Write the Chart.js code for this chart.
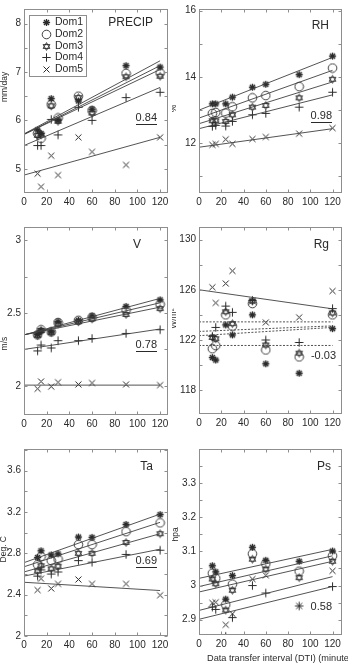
<!DOCTYPE html>
<html>
<head>
<meta charset="utf-8">
<script src="https://cdn.jsdelivr.net/npm/chart.js@4/dist/chart.umd.min.js"></script>
<style>
  html, body { margin: 0; padding: 0; background: #fff; width: 348px; height: 666px; overflow: hidden; }
  canvas { position: absolute; }
</style>
</head>
<body>
<canvas id="c1"></canvas>
<canvas id="c2"></canvas>
<canvas id="c3"></canvas>
<canvas id="c4"></canvas>
<canvas id="c5"></canvas>
<canvas id="c6"></canvas>
<script>
// data transfer interval (minutes), same for every panel
const dti = [12, 15, 24, 30, 48, 60, 90, 120];
const domNames = ["Dom1", "Dom2", "Dom3", "Dom4", "Dom5"];
const xTicks = [0, 20, 40, 60, 80, 100, 120];

// one row per domain: Dom1..Dom5
const precipVals = [
  [5.80, 5.73, 6.45, 6.00, 6.40, 6.23, 7.13, 7.10],
  [5.73, 5.63, 6.33, 6.05, 6.50, 6.20, 6.97, 6.98],
  [5.69, 5.70, 6.30, 5.98, 6.47, 6.15, 6.90, 6.91],
  [5.48, 5.48, 6.02, 5.70, 6.27, 6.00, 6.47, 6.58],
  [4.90, 4.63, 5.27, 4.87, 5.65, 5.35, 5.08, 5.65],
];
const precipFit = [[5.72, 7.23], [5.71, 7.13], [5.71, 7.05], [5.48, 6.68], [4.87, 5.65]];

const rhVals = [
  [13.19, 13.19, 13.19, 13.39, 13.69, 13.78, 14.07, 14.63],
  [12.90, 12.93, 12.91, 13.10, 13.37, 13.44, 13.71, 14.27],
  [12.68, 12.68, 12.66, 12.86, 13.09, 13.14, 13.37, 13.93],
  [12.51, 12.54, 12.52, 12.66, 12.86, 12.90, 13.09, 13.54],
  [11.95, 11.98, 12.12, 11.98, 12.13, 12.19, 12.29, 12.46],
];
const rhFit = [[13.0, 14.59], [12.76, 14.2], [12.59, 13.85], [12.44, 13.46], [11.88, 12.44]];

const vVals = [
  [2.352, 2.38, 2.37, 2.44, 2.45, 2.48, 2.545, 2.59],
  [2.35, 2.385, 2.37, 2.435, 2.45, 2.47, 2.52, 2.56],
  [2.345, 2.38, 2.365, 2.425, 2.44, 2.46, 2.49, 2.53],
  [2.24, 2.28, 2.26, 2.31, 2.31, 2.325, 2.36, 2.385],
  [1.98, 2.03, 1.995, 2.025, 2.01, 2.02, 2.01, 2.005],
];
const vFit = [[2.35, 2.6], [2.35, 2.57], [2.35, 2.54], [2.25, 2.39], [2.005, 2.005]];

const rgVals = [
  [120.6, 120.4, 123.2, 122.4, 124.0, 120.1, 119.35, 122.9],
  [121.3, 121.55, 124.0, 123.1, 124.9, 121.2, 120.65, 124.0],
  [122.2, 122.1, 124.25, 123.3, 125.1, 121.6, 120.95, 124.15],
  [122.3, 123.0, 124.7, 124.2, 125.15, 122.0, 121.8, 124.5],
  [126.2, 124.95, 126.5, 127.5, 125.1, 123.4, 123.8, 125.9],
];
const rgFit = [[121.56, 121.56], [122.34, 123.0], [122.68, 123.12], [123.44, 123.44], [126.0, 124.48]];

const taVals = [
  [2.76, 2.825, 2.785, 2.795, 2.958, 2.955, 3.08, 3.175],
  [2.69, 2.77, 2.73, 2.745, 2.885, 2.885, 3.01, 3.095],
  [2.63, 2.68, 2.65, 2.675, 2.80, 2.80, 2.905, 2.99],
  [2.58, 2.64, 2.60, 2.62, 2.73, 2.715, 2.79, 2.83],
  [2.445, 2.555, 2.46, 2.505, 2.547, 2.505, 2.505, 2.395],
];
const taFit = [[2.71, 3.18], [2.67, 3.1], [2.62, 2.99], [2.58, 2.84], [2.52, 2.44]];

const psVals = [
  [3.058, 3.04, 2.96, 3.029, 3.112, 3.074, 3.071, 3.101],
  [3.036, 3.021, 2.944, 3.004, 3.093, 3.064, 3.042, 3.087],
  [3.019, 3.005, 2.928, 2.986, 3.077, 3.048, 3.023, 3.071],
  [2.937, 2.93, 2.851, 2.906, 3.0, 2.978, 2.94, 2.997],
  [2.949, 2.951, 2.885, 2.917, 3.019, 3.03, 2.94, 3.043],
];
const psFit = [[3.021, 3.106], [2.997, 3.087], [2.981, 3.071], [2.901, 2.997], [2.927, 3.026]];

const FONT = "Arial, 'Liberation Sans', sans-serif";
const INK = "#2a2a2a";

// marker images: asterisk, circle, hexagram, plus, cross
function makeMark(kind) {
  const c = document.createElement("canvas");
  c.width = 11; c.height = 11;
  const g = c.getContext("2d");
  const m = 5.5;
  g.strokeStyle = INK; g.fillStyle = INK; g.lineWidth = 1;
  g.beginPath();
  if (kind === "ast") {
    const r = 3.6;
    for (let k = 0; k < 4; k++) {
      const a = k * Math.PI / 4;
      g.moveTo(m - r * Math.cos(a), m - r * Math.sin(a));
      g.lineTo(m + r * Math.cos(a), m + r * Math.sin(a));
    }
    g.lineWidth = 1.3; g.stroke();
    g.beginPath(); g.arc(m, m, 1.7, 0, Math.PI * 2); g.fill();
  } else if (kind === "circle") {
    g.arc(m, m, 4.3, 0, Math.PI * 2); g.lineWidth = 0.9; g.stroke();
  } else if (kind === "hex") {
    const r = 3.9;
    for (let t = 0; t < 2; t++) {
      for (let k = 0; k < 3; k++) {
        const a = -Math.PI / 2 + t * Math.PI + k * 2 * Math.PI / 3;
        const px = m + r * Math.cos(a), py = m + r * Math.sin(a);
        if (k === 0) g.moveTo(px, py); else g.lineTo(px, py);
      }
      g.closePath();
    }
    g.lineWidth = 0.9; g.stroke();
  } else if (kind === "plus") {
    g.moveTo(m, m - 4.2); g.lineTo(m, m + 4.2);
    g.moveTo(m - 4.2, m); g.lineTo(m + 4.2, m);
    g.lineWidth = 1; g.stroke();
  } else {
    g.moveTo(m - 3, m - 3); g.lineTo(m + 3, m + 3);
    g.moveTo(m + 3, m - 3); g.lineTo(m - 3, m + 3);
    g.lineWidth = 1; g.stroke();
  }
  return c;
}
const marks = [makeMark("ast"), makeMark("circle"), makeMark("hex"), makeMark("plus"), makeMark("x")];

function fmt(v) { return String(Math.round(v * 1000) / 1000); }
function range(a, b, s) { const out = []; for (let v = a; v <= b + 1e-9; v += s) out.push(Math.round(v * 1000) / 1000); return out; }

function buildPanel(p) {
  const cv = document.getElementById(p.id);
  cv.style.left = p.left + "px"; cv.style.top = p.top + "px";
  cv.width = p.width; cv.height = p.height;
  const [bl, bt, br, bb] = p.box;
  const xAxisH = 20;
  const yAxisW = bl - p.left;

  const datasets = [];
  p.fit.forEach((f, i) => {
    datasets.push({
      data: [{ x: 0, y: f[0] }, { x: 120, y: f[1] }],
      showLine: true, pointRadius: 0, borderColor: "#404040", borderWidth: 0.9,
      borderDash: p.dashed && p.dashed[i] ? [2, 1.5] : [],
    });
  });
  p.vals.forEach((row, i) => {
    datasets.push({
      label: domNames[i],
      data: dti.map((x, k) => ({ x: x, y: row[k] })),
      pointStyle: marks[i], pointRadius: 5, showLine: false,
    });
  });

  const deco = {
    id: "deco",
    afterDraw(chart) {
      const ctx = chart.ctx, a = chart.chartArea;
      const xs = chart.scales.x, ys = chart.scales.y;
      ctx.save();
      // box and inward ticks
      ctx.strokeStyle = "#8e8e8e"; ctx.lineWidth = 1;
      const L = Math.round(a.left) + 0.5, T = Math.round(a.top) + 0.5;
      const R = Math.round(a.right) - 0.5, B = Math.round(a.bottom) - 0.5;
      ctx.strokeRect(L, T, R - L, B - T);
      ctx.beginPath();
      xTicks.forEach(v => {
        const px = Math.round(xs.getPixelForValue(v)) + 0.5;
        ctx.moveTo(px, B); ctx.lineTo(px, B - 3);
        ctx.moveTo(px, T); ctx.lineTo(px, T + 3);
      });
      p.yMarks.forEach(v => {
        const py = Math.round(ys.getPixelForValue(v)) + 0.5;
        ctx.moveTo(L, py); ctx.lineTo(L + 3, py);
        ctx.moveTo(R, py); ctx.lineTo(R - 3, py);
      });
      ctx.stroke();

      ctx.fillStyle = INK;
      // panel name
      ctx.font = "12px " + FONT;
      ctx.textAlign = "right"; ctx.textBaseline = "middle";
      ctx.fillText(p.title, a.right - p.titlePos[0], a.top + p.titlePos[1]);
      // statistic
      ctx.font = "11px " + FONT;
      const sx = a.right - p.statPos[0], sy = a.top + p.statPos[1];
      ctx.fillText(p.stat, sx, sy);
      if (p.underline) {
        const w = ctx.measureText(p.stat).width;
        ctx.fillRect(Math.round(sx - w), Math.round(sy + 6), Math.round(w), 1);
      }
      // y axis title
      ctx.save();
      ctx.font = "8.5px " + FONT;
      ctx.textAlign = "center";
      ctx.translate(p.yTitleX - p.left, ys.getPixelForValue(p.yTitleAt));
      ctx.rotate(-Math.PI / 2);
      ctx.fillText(p.yTitle, 0, 0);
      ctx.restore();
      // legend
      if (p.legend) {
        const lx = a.left + 5, ly = a.top + 6;
        ctx.fillStyle = "#fff";
        ctx.fillRect(lx, ly, 57, 61);
        ctx.strokeStyle = "#8e8e8e";
        ctx.strokeRect(Math.round(lx) + 0.5, Math.round(ly) + 0.5, 57, 61);
        ctx.fillStyle = INK;
        ctx.font = "10.5px " + FONT;
        ctx.textAlign = "left";
        domNames.forEach((n, i) => {
          const yy = Math.round(ly + 7 + i * 11.8);
          ctx.drawImage(marks[i], Math.round(lx + 17 - 5.5), yy - 5.5 + 0.5);
          ctx.fillText(n, lx + 26, yy + 0.5);
        });
      }
      if (p.xTitle) {
        ctx.font = "9.2px " + FONT;
        ctx.textAlign = "left";
        ctx.fillText(p.xTitle, p.xTitlePos[0] - p.left, p.xTitlePos[1] - p.top);
      }
      ctx.restore();
    }
  };

  new Chart(cv, {
    type: "scatter",
    data: { datasets: datasets },
    options: {
      responsive: false,
      animation: false,
      devicePixelRatio: 1,
      layout: {
        padding: {
          left: 0,
          top: bt - p.top,
          right: p.left + p.width - br,
          bottom: p.top + p.height - bb - xAxisH,
        },
      },
      plugins: { legend: { display: false }, tooltip: { enabled: false } },
      scales: {
        x: {
          type: "linear", min: 0, max: p.xmax,
          grid: { display: false, drawTicks: false, tickLength: 0 }, border: { display: false },
          afterBuildTicks: s => { s.ticks = xTicks.map(v => ({ value: v })); },
          afterFit: s => { s.height = xAxisH; },
          ticks: { autoSkip: false, maxRotation: 0, padding: 3, color: INK, font: { size: 10, family: FONT }, callback: v => fmt(v) },
        },
        y: {
          type: "linear", min: p.ymin, max: p.ymax,
          grid: { display: false, drawTicks: false, tickLength: 0 }, border: { display: false },
          afterBuildTicks: s => { s.ticks = p.yLabels.map(v => ({ value: v })); },
          afterFit: s => { s.width = yAxisW; },
          ticks: { autoSkip: false, padding: 3, color: INK, font: { size: 10, family: FONT }, callback: v => fmt(v) },
        },
      },
    },
    plugins: [deco],
  });
}

buildPanel({
  id: "c1", left: 0, top: 0, width: 174, height: 215, box: [24, 4, 170, 193],
  ymin: 4.5, ymax: 8.3, yLabels: [5, 6, 7, 8], yMarks: range(5, 8, 0.5), xmax: 127,
  vals: precipVals, fit: precipFit,
  title: "PRECIP", titlePos: [15, 14], stat: "0.84", underline: true, statPos: [11, 109],
  yTitle: "mm/day", yTitleAt: 6.69, yTitleX: 5, legend: true,
});
buildPanel({
  id: "c2", left: 172, top: 0, width: 176, height: 215, box: [199, 5, 343, 193],
  ymin: 10.5, ymax: 16.05, yLabels: [12, 14, 16], yMarks: range(11, 16, 1), xmax: 128.5,
  vals: rhVals, fit: rhFit,
  title: "RH", titlePos: [13, 17], stat: "0.98", underline: true, statPos: [10, 107],
  yTitle: "%", yTitleAt: 13.05, yTitleX: 174,
});
buildPanel({
  id: "c3", left: 0, top: 218, width: 174, height: 220, box: [24, 225, 170, 415],
  ymin: 1.8, ymax: 3.09, yLabels: [2, 2.5, 3], yMarks: range(2, 3, 0.25), xmax: 127,
  vals: vVals, fit: vFit,
  title: "V", titlePos: [27, 18], stat: "0.78", underline: true, statPos: [11, 118],
  yTitle: "m/s", yTitleAt: 2.29, yTitleX: 5,
});
buildPanel({
  id: "c4", left: 172, top: 218, width: 176, height: 220, box: [199, 225, 343, 414],
  ymin: 116.1, ymax: 131, yLabels: [118, 122, 126, 130], yMarks: range(118, 130, 2), xmax: 128.5,
  vals: rgVals, fit: rgFit, dashed: [true, true, true, true, false],
  title: "Rg", titlePos: [13, 18], stat: "-0.03", underline: false, statPos: [6, 129],
  yTitle: "W/m²", yTitleAt: 123.7, yTitleX: 174,
});
buildPanel({
  id: "c5", left: 0, top: 440, width: 174, height: 226, box: [24, 445, 170, 636],
  ymin: 2, ymax: 3.81, yLabels: [2, 2.4, 2.8, 3.2, 3.6], yMarks: range(2, 3.8, 0.2), xmax: 127,
  vals: taVals, fit: taFit,
  title: "Ta", titlePos: [15, 18], stat: "0.69", underline: true, statPos: [11, 112],
  yTitle: "Deg. C", yTitleAt: 2.84, yTitleX: 4,
});
buildPanel({
  id: "c6", left: 172, top: 440, width: 176, height: 226, box: [199, 445, 343, 635],
  ymin: 2.855, ymax: 3.4, yLabels: [2.9, 3, 3.1, 3.2, 3.3], yMarks: range(2.9, 3.35, 0.05), xmax: 128.5,
  vals: psVals, fit: psFit,
  title: "Ps", titlePos: [11, 18], stat: "0.58", underline: false, statPos: [10, 158],
  yTitle: "hpa", yTitleAt: 3.15, yTitleX: 176,
  xTitle: "Data transfer interval (DTI) (minutes)", xTitlePos: [207, 658],
});
</script>
</body>
</html>
